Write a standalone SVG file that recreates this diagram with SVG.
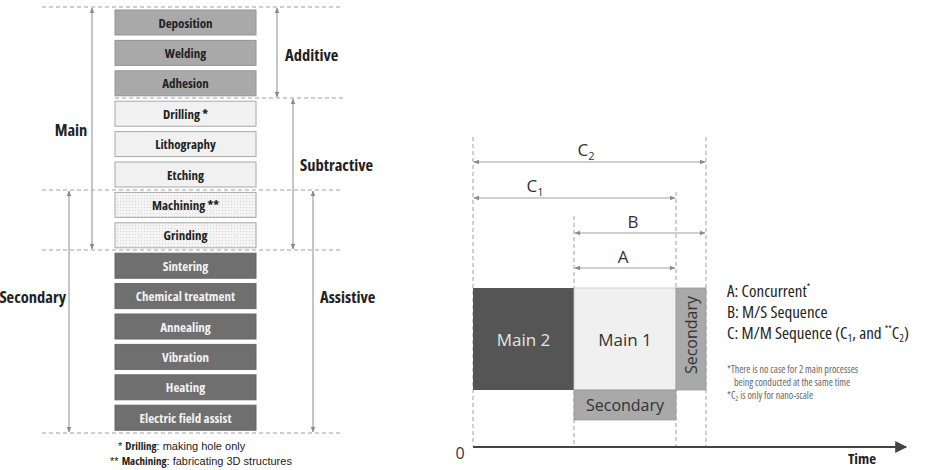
<svg xmlns="http://www.w3.org/2000/svg" width="925" height="470" viewBox="0 0 925 470">
<style>
.bx text{font-family:"Open Sans","Liberation Sans",sans-serif;font-weight:bold;font-size:13px;font-stretch:condensed;text-anchor:middle;dominant-baseline:central}
.add rect{fill:#a9a9a9;stroke:#949494;stroke-width:1}
.add text{fill:#222}
.sub rect{fill:#f1f1f1;stroke:#a8a8a8;stroke-width:1}
.sub text{fill:#222}
.hat rect{fill:url(#dots);stroke:#a8a8a8;stroke-width:1}
.hat text{fill:#222}
.sec rect{fill:#6f6f6f;stroke:#666;stroke-width:1}
.sec text{fill:#f2f2f2}
.dash{stroke:#a0a0a0;stroke-width:1;stroke-dasharray:4 3;fill:none}
.arr{stroke:#a0a0a0;stroke-width:1.2;fill:none;marker-start:url(#ah);marker-end:url(#ah)}
.lbl{font-family:"Open Sans","Liberation Sans",sans-serif;font-weight:bold;font-size:16.5px;font-stretch:condensed;fill:#222}
.foot{font-family:"Liberation Sans",sans-serif;font-size:11px;fill:#222;font-stretch:condensed}
.rl{font-family:"Open Sans","Liberation Sans",sans-serif;font-size:16px;fill:#333}
.leg{font-family:"Open Sans","Liberation Sans",sans-serif;font-size:17px;fill:#222;font-stretch:condensed}
.note{font-family:"Open Sans","Liberation Sans",sans-serif;font-size:10px;fill:#666;font-stretch:condensed}
</style>
<defs>
<marker id="ah" viewBox="0 0 10 10" refX="9" refY="5" markerWidth="6" markerHeight="6" orient="auto-start-reverse" markerUnits="userSpaceOnUse"><path d="M0,1 L10,5 L0,9 z" fill="#8a8a8a"/></marker>
<marker id="ax" viewBox="0 0 10 10" refX="9" refY="5" markerWidth="14" markerHeight="12" orient="auto" markerUnits="userSpaceOnUse"><path d="M0,0 L10,5 L0,10 z" fill="#444"/></marker>
<pattern id="dots" width="3" height="3" patternUnits="userSpaceOnUse"><rect width="3" height="3" fill="#f4f4f4"/><rect width="1" height="1" fill="#d4d4d4"/></pattern>
</defs>
<rect width="925" height="470" fill="#fff"/>

<g id="guides">
<line class="dash" x1="42" y1="7" x2="343" y2="7"/>
<line class="dash" x1="115" y1="98" x2="343" y2="98"/>
<line class="dash" x1="42" y1="190" x2="343" y2="190"/>
<line class="dash" x1="42" y1="250" x2="343" y2="250"/>
<line class="dash" x1="42" y1="433" x2="343" y2="433"/>
</g>

<g id="node-deposition" class="bx add"><rect x="115" y="10" width="141" height="25"/><text x="185.5" y="22.5">Deposition</text></g>
<g id="node-welding" class="bx add"><rect x="115" y="40.4" width="141" height="25"/><text x="185.5" y="52.9">Welding</text></g>
<g id="node-adhesion" class="bx add"><rect x="115" y="70.8" width="141" height="25"/><text x="185.5" y="83.3">Adhesion</text></g>
<g id="node-drilling" class="bx sub"><rect x="115" y="101.2" width="141" height="25"/><text x="185.5" y="113.7">Drilling *</text></g>
<g id="node-lithography" class="bx sub"><rect x="115" y="131.6" width="141" height="25"/><text x="185.5" y="144.1">Lithography</text></g>
<g id="node-etching" class="bx sub"><rect x="115" y="162" width="141" height="25"/><text x="185.5" y="174.5">Etching</text></g>
<g id="node-machining" class="bx hat"><rect x="115" y="192.4" width="141" height="25"/><text x="185.5" y="204.9">Machining **</text></g>
<g id="node-grinding" class="bx hat"><rect x="115" y="222.8" width="141" height="25"/><text x="185.5" y="235.3">Grinding</text></g>
<g id="node-sintering" class="bx sec"><rect x="115" y="253.2" width="141" height="25"/><text x="185.5" y="265.7">Sintering</text></g>
<g id="node-chemical" class="bx sec"><rect x="115" y="283.6" width="141" height="25"/><text x="185.5" y="296.1">Chemical treatment</text></g>
<g id="node-annealing" class="bx sec"><rect x="115" y="314" width="141" height="25"/><text x="185.5" y="326.5">Annealing</text></g>
<g id="node-vibration" class="bx sec"><rect x="115" y="344.4" width="141" height="25"/><text x="185.5" y="356.9">Vibration</text></g>
<g id="node-heating" class="bx sec"><rect x="115" y="374.8" width="141" height="25"/><text x="185.5" y="387.3">Heating</text></g>
<g id="node-electric" class="bx sec"><rect x="115" y="405.2" width="141" height="25"/><text x="185.5" y="417.7">Electric field assist</text></g>

<g id="connectors">
<line class="arr" x1="92" y1="8" x2="92" y2="249"/>
<line class="arr" x1="277" y1="8" x2="277" y2="97"/>
<line class="arr" x1="293" y1="99" x2="293" y2="249"/>
<line class="arr" x1="69" y1="191" x2="69" y2="432"/>
<line class="arr" x1="313" y1="191" x2="313" y2="432"/>
</g>

<g id="labels-left">
<text class="lbl" x="71" y="136" text-anchor="middle">Main</text>
<text class="lbl" x="285" y="61">Additive</text>
<text class="lbl" x="300" y="171">Subtractive</text>
<text class="lbl" x="66" y="303" text-anchor="end">Secondary</text>
<text class="lbl" x="320" y="303">Assistive</text>
<text class="foot" x="118" y="450">* <tspan font-weight="bold" font-family="Open Sans, Liberation Sans, sans-serif">Drilling</tspan>: making hole only</text>
<text class="foot" x="110" y="465">** <tspan font-weight="bold" font-family="Open Sans, Liberation Sans, sans-serif">Machining</tspan>: fabricating 3D structures</text>
</g>

<g id="right-guides">
<line class="dash" x1="473" y1="137" x2="473" y2="446"/>
<line class="dash" x1="706" y1="137" x2="706" y2="446"/>
<line class="dash" x1="676" y1="192" x2="676" y2="446"/>
<line class="dash" x1="574" y1="216" x2="574" y2="446"/>
</g>

<g id="node-main2"><rect x="473" y="288" width="101" height="102" fill="#555"/><text class="rl" x="523.5" y="339" text-anchor="middle" dominant-baseline="central" style="fill:#e4e4e4;font-size:17px">Main 2</text></g>
<g id="node-main1"><rect x="574" y="288" width="102" height="102" fill="#f0f0f0" stroke="#c4c4c4" stroke-width="0.8"/><text class="rl" x="625" y="339" text-anchor="middle" dominant-baseline="central" style="font-size:17px">Main 1</text></g>
<g id="node-sec-v"><rect x="676" y="288" width="30" height="102" fill="#a9a9a9" stroke="#999" stroke-width="0.8"/><text class="rl" transform="translate(691,335) rotate(-90)" text-anchor="middle" dominant-baseline="central">Secondary</text></g>
<g id="node-sec-h"><rect x="574" y="390" width="102" height="30" fill="#a9a9a9" stroke="#999" stroke-width="0.8"/><text class="rl" x="625" y="405" text-anchor="middle" dominant-baseline="central">Secondary</text></g>

<g id="connectors-right">
<line class="arr" x1="474" y1="162" x2="705" y2="162"/>
<line class="arr" x1="474" y1="198" x2="675" y2="198"/>
<line class="arr" x1="575" y1="233" x2="705" y2="233"/>
<line class="arr" x1="575" y1="268" x2="675" y2="268"/>
<line x1="473" y1="447" x2="906" y2="447" stroke="#444" stroke-width="2" marker-end="url(#ax)"/>
</g>

<g id="labels-right">
<text class="rl" x="586" y="156" text-anchor="middle" style="font-size:17px">C<tspan font-size="11" dy="4">2</tspan></text>
<text class="rl" x="535" y="192" text-anchor="middle" style="font-size:17px">C<tspan font-size="11" dy="4">1</tspan></text>
<text class="rl" x="633" y="228" text-anchor="middle" style="font-size:17px">B</text>
<text class="rl" x="623" y="263" text-anchor="middle" style="font-size:17px">A</text>
<text class="rl" x="460" y="459" text-anchor="middle">0</text>
<text class="lbl" x="862" y="464" text-anchor="middle" style="font-size:15px">Time</text>
<text class="leg" x="727" y="297">A: Concurrent<tspan font-size="9" dy="-7">*</tspan></text>
<text class="leg" x="727" y="318">B: M/S Sequence</text>
<text class="leg" x="727" y="339">C: M/M Sequence (C<tspan font-size="11" dy="3">1</tspan><tspan dy="-3">, and </tspan><tspan font-size="9" dy="-7">**</tspan><tspan dy="7">C</tspan><tspan font-size="11" dy="3">2</tspan><tspan dy="-3">)</tspan></text>
<text class="note" x="727" y="373">*There is no case for 2 main processes</text>
<text class="note" x="734" y="386">being conducted at the same time</text>
<text class="note" x="727" y="399">*C<tspan font-size="7" dy="2">2</tspan><tspan dy="-2"> is only for nano-scale</tspan></text>
</g>
</svg>
